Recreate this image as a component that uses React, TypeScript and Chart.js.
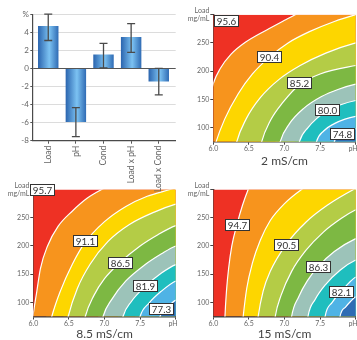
import React, { useEffect, useRef } from 'react';
import { Chart, registerables } from 'chart.js';

Chart.register(...registerables);

const FONT = "Lato, 'Open Sans', sans-serif";

// ---------- Effects bar chart data ----------
const effectNames = ['Load', 'pH', 'Cond', 'Load x pH', 'Load x Cond'];
const effectValues = [4.7, -5.93, 1.55, 3.48, -1.44];
const effectErrLow = [3.1, -7.55, 0.07, 1.78, -2.93];
const effectErrHigh = [6.03, -4.33, 2.78, 4.96, 0.0];
const effectTicks = [-8, -6, -4, -2, 0, 2, 4, 6];

// ---------- Contour panels data ----------
const phTicks = [6, 6.5, 7, 7.5, 8];
const loadTicks = [100, 150, 200, 250, 300];
const bandColors = ['#EE3124', '#F7941D', '#FDD600', '#B4CC46', '#7DB843', '#9CC3B9', '#1FBEBE', '#4FB3E5', '#2E6CB4'];

// boundaries (pH, load) for 2 mS/cm
const curves2: number[][][] = [
  [[5.95, 150], [6.0, 178], [6.1, 205], [6.25, 230], [6.45, 251], [6.75, 273], [7.0, 290], [7.15, 300], [7.5, 320], [8.3, 345]],
  [[5.95, 30], [6.04, 75], [6.16, 115], [6.35, 160], [6.55, 195], [6.78, 224], [7.05, 250], [7.35, 270], [7.7, 288], [8.0, 300], [8.3, 310]],
  [[6.26, 30], [6.33, 75], [6.46, 115], [6.66, 153], [6.92, 185], [7.22, 210], [7.58, 232], [8.0, 250], [8.3, 258]],
  [[6.61, 30], [6.68, 75], [6.8, 112], [6.98, 145], [7.21, 176], [7.5, 195], [8.0, 210], [8.3, 216]],
  [[6.87, 30], [6.94, 75], [7.07, 107], [7.27, 134], [7.52, 155], [7.76, 168], [8.0, 177], [8.3, 183]],
  [[7.14, 30], [7.21, 75], [7.33, 100], [7.46, 117], [7.6, 130], [7.8, 141], [8.0, 148], [8.3, 154]],
  [[7.38, 30], [7.45, 75], [7.55, 94], [7.7, 107], [7.85, 115], [8.0, 120], [8.3, 125]],
  [[7.64, 30], [7.7, 75], [7.8, 88], [7.9, 94], [8.0, 98], [8.3, 103]],
];
const labelText2 = ['95.6', '90.4', '85.2', '80.0', '74.8'];
const labelPos2 = [[6.18, 289], [6.78, 226], [7.21, 180], [7.6, 132], [7.81, 89.5]];

// boundaries for 8.5 mS/cm
const curves3: number[][][] = [
  [[5.96, 40], [6.0, 80], [6.05, 120], [6.1, 160], [6.2, 200], [6.35, 235], [6.55, 262], [6.75, 284], [6.96, 300], [7.3, 320], [8.3, 360]],
  [[6.18, 30], [6.26, 75], [6.38, 120], [6.55, 168], [6.72, 205], [7.0, 243], [7.3, 270], [7.6, 288], [7.92, 300], [8.3, 315]],
  [[6.42, 30], [6.49, 75], [6.62, 125], [6.8, 168], [7.05, 208], [7.35, 238], [7.7, 260], [8.0, 274], [8.3, 282]],
  [[6.66, 30], [6.73, 75], [6.85, 112], [7.0, 142], [7.22, 171], [7.5, 200], [7.75, 220], [8.0, 236], [8.3, 245]],
  [[6.91, 30], [6.98, 75], [7.1, 105], [7.3, 138], [7.55, 165], [7.8, 186], [8.0, 200], [8.3, 208]],
  [[7.19, 30], [7.26, 75], [7.38, 102], [7.57, 128], [7.8, 152], [8.0, 167], [8.3, 175]],
  [[7.43, 30], [7.5, 75], [7.62, 98], [7.8, 120], [8.0, 138], [8.3, 146]],
  [[7.71, 30], [7.78, 75], [7.86, 88], [7.93, 97], [8.0, 104], [8.3, 112]],
];
const labelText3 = ['95.7', '91.1', '86.5', '81.9', '77.3'];
const labelPos3 = [[6.12, 300], [6.72, 209], [7.22, 171], [7.57, 130], [7.8, 89]];

// boundaries for 15 mS/cm
const curves4: number[][][] = [
  [[6.15, 20], [6.164, 75], [6.185, 120], [6.215, 160], [6.26, 200], [6.33, 237], [6.41, 272], [6.49, 300], [6.6, 330], [8.3, 420]],
  [[6.38, 20], [6.42, 75], [6.47, 125], [6.55, 170], [6.66, 210], [6.8, 245], [7.0, 275], [7.24, 300], [7.5, 320], [8.3, 370]],
  [[6.58, 20], [6.63, 75], [6.7, 120], [6.8, 155], [7.02, 202], [7.3, 242], [7.6, 272], [7.97, 300], [8.3, 320]],
  [[6.82, 20], [6.87, 75], [6.95, 112], [7.1, 155], [7.3, 192], [7.55, 225], [7.8, 249], [8.0, 264], [8.3, 280]],
  [[7.05, 20], [7.1, 75], [7.2, 110], [7.32, 138], [7.47, 163], [7.7, 190], [8.0, 213], [8.3, 225]],
  [[7.28, 20], [7.33, 75], [7.43, 105], [7.58, 132], [7.78, 157], [8.0, 175], [8.3, 186]],
  [[7.52, 20], [7.57, 75], [7.67, 100], [7.8, 120], [8.0, 145], [8.3, 155]],
  [[7.73, 20], [7.78, 75], [7.86, 92], [7.93, 102], [8.0, 110], [8.3, 118]],
];
const labelText4 = ['94.7', '90.5', '86.3', '82.1'];
const labelPos4 = [[6.33, 238], [7.02, 202], [7.47, 163], [7.8, 120]];

// ---------- helpers ----------
type Area = { left: number; top: number; right: number; bottom: number };

function ChartBox(props: { make: () => any; left: number; top: number; w: number; h: number }) {
  const ref = useRef<HTMLCanvasElement | null>(null);
  useEffect(() => {
    const chart = new Chart(ref.current as HTMLCanvasElement, props.make());
    return () => chart.destroy();
  }, []);
  return (
    <div style={{ position: 'absolute', left: props.left, top: props.top, width: props.w, height: props.h }}>
      <canvas ref={ref} width={props.w} height={props.h} style={{ width: props.w, height: props.h, display: 'block' }} />
    </div>
  );
}

function barConfig(w: number, h: number, area: Area) {
  const barW = 20.5;
  const errorBars = {
    id: 'errorBars',
    afterDatasetsDraw(chart: any) {
      const { ctx } = chart;
      const ys = chart.scales.y;
      const meta = chart.getDatasetMeta(0);
      ctx.save();
      ctx.strokeStyle = '#4a4a4a';
      ctx.lineWidth = 1.3;
      meta.data.forEach((bar: any, i: number) => {
        const x = bar.x;
        const y1 = ys.getPixelForValue(effectErrLow[i]);
        const y2 = ys.getPixelForValue(effectErrHigh[i]);
        ctx.beginPath();
        ctx.moveTo(x, y1);
        ctx.lineTo(x, y2);
        ctx.moveTo(x - 4, y1);
        ctx.lineTo(x + 4, y1);
        ctx.moveTo(x - 4, y2);
        ctx.lineTo(x + 4, y2);
        ctx.stroke();
      });
      ctx.restore();
    },
  };
  return {
    type: 'bar',
    data: {
      datasets: [
        {
          data: effectValues.map((v, i) => ({ x: i, y: v })),
          backgroundColor: (c: any) => {
            const chart = c.chart;
            const xs = chart.scales && chart.scales.x;
            if (!xs || !chart.chartArea) return '#4f8fd6';
            const cx = xs.getPixelForValue(c.dataIndex);
            const g = chart.ctx.createLinearGradient(cx - barW / 2, 0, cx + barW / 2, 0);
            g.addColorStop(0, '#2A64AE');
            g.addColorStop(0.55, '#7CC2F2');
            g.addColorStop(1, '#2F6BB4');
            return g;
          },
          borderWidth: 0,
          barPercentage: 0.74,
          categoryPercentage: 1,
        },
      ],
    },
    options: {
      responsive: false,
      animation: false,
      layout: { padding: { left: area.left - 32.3, top: area.top, right: w - area.right, bottom: 0 } },
      plugins: { legend: { display: false }, tooltip: { enabled: false } },
      scales: {
        x: {
          type: 'linear',
          min: -0.577,
          max: 4.613,
          offset: false,
          afterBuildTicks: (s: any) => {
            s.ticks = effectNames.map((_, i) => ({ value: i }));
          },
          afterFit: (s: any) => {
            s.height = h - area.bottom;
            s.paddingLeft = 0;
            s.paddingRight = 0;
          },
          ticks: {
            autoSkip: false,
            minRotation: 90,
            maxRotation: 90,
            padding: 2,
            color: '#666',
            font: { family: FONT, size: 8.5 },
            callback: (v: number) => effectNames[Math.round(v)] ?? '',
          },
          grid: { display: true, drawOnChartArea: false, offset: false, tickLength: 3, tickColor: '#555' },
          border: { color: '#4a4a4a', width: 1.2 },
        },
        y: {
          min: -8,
          max: 6,
          afterBuildTicks: (s: any) => {
            s.ticks = effectTicks.map((v) => ({ value: v }));
          },
          afterFit: (s: any) => {
            s.width = 32.3;
            s.paddingTop = 0;
            s.paddingBottom = 0;
          },
          ticks: {
            padding: 1.5,
            color: '#666',
            font: { family: FONT, size: 8 },
            callback: (v: number) => (v === 6 ? '%' : String(v)),
          },
          grid: {
            color: (c: any) => (c.tick && c.tick.value === 0 ? '#555' : '#dcdcdc'),
            tickColor: '#555',
            tickLength: 2,
          },
          border: { color: '#4a4a4a', width: 1.2 },
        },
      },
    },
    plugins: [errorBars],
  };
}

function contourConfig(
  curves: number[][][],
  labelText: string[],
  labelPos: number[][],
  title: string,
  w: number,
  h: number,
  area: Area
) {
  const labelsPlugin = {
    id: 'boxLabels',
    afterDraw(chart: any) {
      const { ctx } = chart;
      const xs = chart.scales.x;
      const ys = chart.scales.y;
      ctx.save();
      ctx.font = `9.8px ${FONT}`;
      ctx.textAlign = 'center';
      ctx.textBaseline = 'middle';
      labelText.forEach((t, i) => {
        const cx = xs.getPixelForValue(labelPos[i][0]);
        const cy = ys.getPixelForValue(labelPos[i][1]);
        const bw = Math.round(ctx.measureText(t).width + 5);
        const bh = 11;
        const bx = Math.round(cx - bw / 2) + 0.5;
        const by = Math.round(cy - bh / 2) + 0.5;
        ctx.fillStyle = '#ffffff';
        ctx.fillRect(bx, by, bw, bh);
        ctx.strokeStyle = '#333';
        ctx.lineWidth = 1;
        ctx.strokeRect(bx, by, bw, bh);
        ctx.fillStyle = '#333';
        ctx.fillText(t, bx + bw / 2, by + bh / 2 + 0.5);
      });
      ctx.restore();
    },
  };
  const datasets: any[] = [
    {
      data: [
        { x: 5.5, y: 500 },
        { x: 8.5, y: 500 },
      ],
      fill: 'start',
      backgroundColor: bandColors[0],
      borderWidth: 0,
      pointRadius: 0,
      order: 0,
    },
    ...curves.map((c, i) => ({
      data: c.map(([x, y]) => ({ x, y })),
      fill: 'start',
      backgroundColor: bandColors[i + 1],
      borderColor: '#ffffff',
      borderWidth: 1.2,
      pointRadius: 0,
      cubicInterpolationMode: 'monotone',
      order: -(i + 1),
      clip: 0,
    })),
  ];
  return {
    type: 'line',
    data: { datasets },
    options: {
      responsive: false,
      animation: false,
      layout: { padding: { left: 0, top: area.top, right: w - area.right, bottom: 0 } },
      elements: { line: { capBezierPoints: false }, point: { radius: 0 } },
      plugins: { legend: { display: false }, tooltip: { enabled: false } },
      scales: {
        x: {
          type: 'linear',
          min: 6,
          max: 8,
          z: 1,
          afterBuildTicks: (s: any) => {
            s.ticks = phTicks.map((v) => ({ value: v }));
          },
          afterFit: (s: any) => {
            s.height = h - area.bottom;
            s.paddingLeft = 0;
            s.paddingRight = 0;
          },
          ticks: {
            autoSkip: false,
            maxRotation: 0,
            padding: 0,
            color: '#666',
            font: { family: FONT, size: 7 },
            callback: (v: number) => (v === 8 ? 'pH\u2003' : v.toFixed(1)),
          },
          grid: { display: true, drawOnChartArea: false, tickLength: 3, tickColor: '#444' },
          border: { color: '#3c3c3c', width: 1.4 },
          title: {
            display: true,
            text: title,
            color: '#444',
            font: { family: FONT, size: 12 },
            padding: { top: 0, bottom: 1.5 },
          },
        },
        y: {
          type: 'linear',
          min: 75,
          max: 300,
          z: 1,
          afterBuildTicks: (s: any) => {
            s.ticks = loadTicks.map((v) => ({ value: v }));
          },
          afterFit: (s: any) => {
            s.width = area.left;
            s.paddingTop = 0;
            s.paddingBottom = 0;
          },
          ticks: {
            padding: 1,
            color: '#666',
            font: { family: FONT, size: 7, lineHeight: 1.2 },
            callback: (v: number) => (v === 300 ? ['Load', 'mg/mL'] : String(v)),
          },
          grid: { display: true, drawOnChartArea: false, tickLength: 3, tickColor: '#444' },
          border: { color: '#3c3c3c', width: 1.4 },
        },
      },
    },
    plugins: [labelsPlugin],
  };
}

export default function App() {
  return (
    <div style={{ position: 'absolute', left: 0, top: 0, width: 357, height: 340, overflow: 'hidden', background: '#fff' }}>
      <ChartBox
        left={180}
        top={0}
        w={177}
        h={170}
        make={() => contourConfig(curves2, labelText2, labelPos2, '2 mS/cm', 177, 170, { left: 33.3, top: 14.7, right: 175.7, bottom: 141.7 })}
      />
      <ChartBox
        left={0}
        top={170}
        w={180}
        h={173}
        make={() => contourConfig(curves3, labelText3, labelPos3, '8.5 mS/cm', 180, 173, { left: 33.3, top: 19.5, right: 175.7, bottom: 146.5 })}
      />
      <ChartBox
        left={180}
        top={170}
        w={177}
        h={173}
        make={() => contourConfig(curves4, labelText4, labelPos4, '15 mS/cm', 177, 173, { left: 33.3, top: 19.5, right: 175.7, bottom: 146.5 })}
      />
      <ChartBox left={0} top={0} w={180} h={200} make={() => barConfig(180, 200, { left: 32.3, top: 14.3, right: 175.7, bottom: 140.7 })} />
    </div>
  );
}
